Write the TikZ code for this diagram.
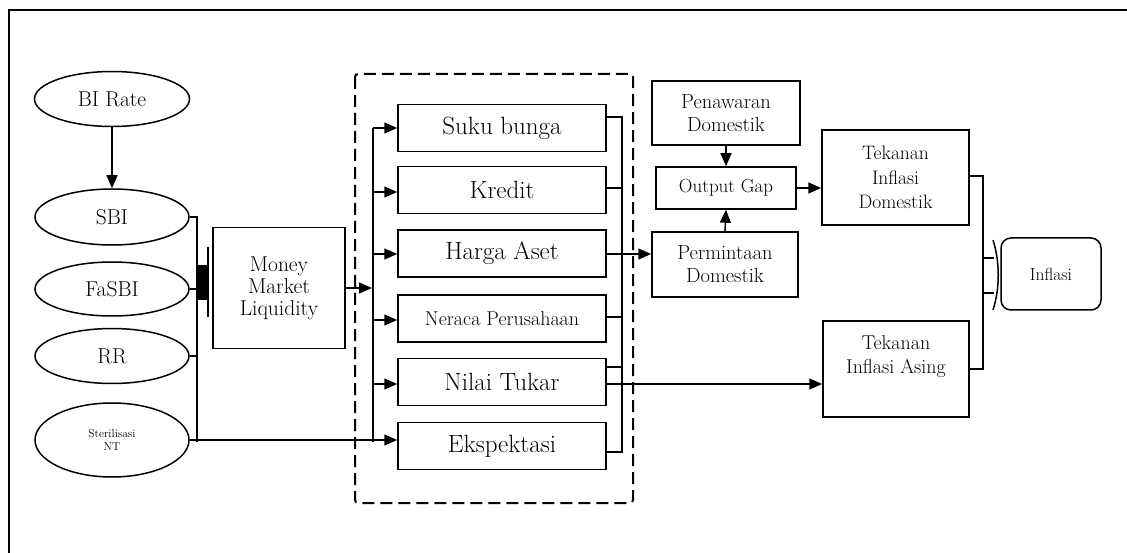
\documentclass[tikz,border=0pt]{standalone}
\usetikzlibrary{shapes.geometric,arrows.meta,calc}
\begin{document}
\begin{tikzpicture}[x=1pt,y=-1pt,
  every path/.style={line width=1.5pt},
  box/.style={draw,line width=1.5pt,inner sep=0pt,align=center},
  oval/.style={draw,ellipse,line width=1.5pt,inner sep=0pt,align=center},
  arr/.style={-{Triangle[length=13pt,width=11pt]}},
  fA/.style={font=\fontsize{25}{28}\selectfont},
  fB/.style={font=\fontsize{21.5}{22}\selectfont},
  fC/.style={font=\fontsize{19.5}{24.5}\selectfont},
  fD/.style={font=\fontsize{11.5}{12.5}\selectfont},
  wide/.style={minimum width=208pt,minimum height=47pt,fA}]
\useasboundingbox (0,0) rectangle (1127,553);
% frame
\draw (9,553) -- (9,10) -- (1127,10);
% left ellipses
\node[oval,minimum width=155pt,minimum height=55pt,fB] (bi) at (112,99) {BI Rate};
\node[oval,minimum width=154pt,minimum height=56pt,fB] (sbi) at (112,217) {SBI};
\node[oval,minimum width=154pt,minimum height=54pt,fB] (fasbi) at (112,289) {FaSBI};
\node[oval,minimum width=154pt,minimum height=55pt,fB] (rr) at (112,356) {RR};
\node[oval,minimum width=154pt,minimum height=74pt,fD] (nt) at (112,440) {Sterilisasi\\NT};
\draw[arr] (bi) -- (sbi);
% money market
\node[box,minimum width=132pt,minimum height=121pt,fB] (mml) at (279,288) {Money\\Market\\Liquidity};
\coordinate (busA) at (197,217);
\draw (sbi.east) -- (busA) -- (197,442);
\draw (fasbi.east) -- (197,289);
\draw (rr.east) -- (197,356);
\fill (197,265) rectangle (208,300);
\draw (208,247) -- (208,317);
% channels
\node[box,wide] (sb) at (502,128) {Suku bunga};
\node[box,wide] (kr) at (502,190) {Kredit};
\node[box,wide] (ha) at (502,253.5) {Harga Aset};
\node[box,wide,font=\fontsize{20}{22}\selectfont] (np) at (502,318.5) {Neraca Perusahaan};
\node[box,wide] (nti) at (502,382) {Nilai Tukar};
\node[box,wide] (ek) at (502,446) {Ekspektasi};
\draw[line width=2pt,dash pattern=on 12pt off 6pt,rounded corners=3pt] (355,74) rectangle (633,503);
\coordinate (busB) at (373,128);
\draw[arr] (mml.east |- 0,288) -- (372,288);
\draw (busB) -- (373,442);
\draw[arr] (busB) -- (sb.west |- busB);
\draw[arr] (373,192) -- (kr.west |- 0,192);
\draw[arr] (373,254) -- (ha.west |- 0,254);
\draw[arr] (373,320) -- (np.west |- 0,320);
\draw[arr] (373,384) -- (nti.west |- 0,384);
\draw[arr] (nt.east) -- (ek.west |- nt.east);
% right collector
\coordinate (busC) at (622,117);
\draw (sb.east |- busC) -- (busC) -- (622,452) -- (ek.east |- 0,452);
\draw (kr.east |- 0,188) -- (622,188);
\draw (np.east |- 0,317) -- (622,317);
\draw (nti.east |- 0,367) -- (622,367);
% domestic side
\node[box,minimum width=148pt,minimum height=64pt,font=\fontsize{20.5}{23}\selectfont] (pen) at (726,113) {Penawaran\\Domestik};
\node[box,minimum width=140pt,minimum height=42pt,font=\fontsize{19}{20}\selectfont] (og) at (726,188) {Output Gap};
\node[box,minimum width=146pt,minimum height=65pt,font=\fontsize{20.5}{23}\selectfont] (per) at (725,264.5) {Permintaan\\Domestik};
\node[box,minimum width=147pt,minimum height=95pt,fC] (tid) at (895.5,177.5) {Tekanan\\Inflasi\\Domestik};
\node[box,minimum width=146pt,minimum height=96pt] (tia) at (896,369) {};
\node[align=center,inner sep=0pt,font=\fontsize{20}{24}\selectfont] (tiat) at (896,357) {Tekanan\\Inflasi Asing};
\draw[arr] (ha.east |- 0,254) -- (per.west |- 0,254);
\draw[arr] (nti.east |- 0,384) -- (tia.west |- 0,384);
\draw[arr] (pen.south) -- (og.north);
\draw[arr] (per.north) -- (og.south);
\draw[arr] (og.east) -- (og.east -| tid.west);
% inflation
\node[box,rounded corners=10pt,minimum width=100pt,minimum height=72pt,font=\fontsize{17.5}{18}\selectfont] (inf) at (1051,274) {Inflasi};
\coordinate (busD) at (983,176);
\draw (tid.east |- busD) -- (busD) -- (983,369) -- (tia.east |- 0,369);
\draw (983,258) -- (994,258);
\draw (983,293) -- (994,293);
\draw (993,240) .. controls (1000,262) and (1000,288) .. (993,310);
\end{tikzpicture}
\end{document}
